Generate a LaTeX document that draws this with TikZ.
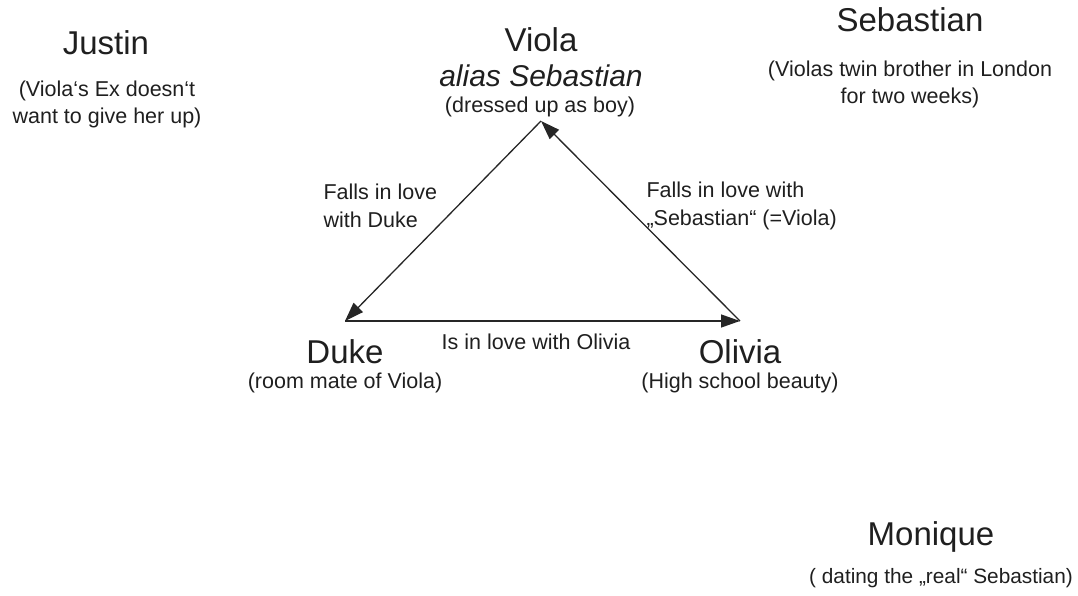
\documentclass[tikz,border=0pt]{standalone}
\usepackage{fontspec}
\setmainfont{Liberation Sans}
\usetikzlibrary{arrows.meta}

\tikzset{
  persona/.style={font=\fontsize{33}{36}\selectfont},
  note/.style={font=\fontsize{21.5}{27}\selectfont,align=center},
  lbl/.style={font=\fontsize{21.5}{28}\selectfont,align=left},
  love/.style={-{Triangle[length=19pt,width=13pt]},line width=1.3pt,draw=black!85}
}

\begin{document}
\begin{tikzpicture}[x=1pt,y=-1pt,text=black!88]
                \useasboundingbox (0,0) rectangle (1078,596);
                % persons
                \node[persona] (justin) at(106,43){Justin};
                \node[note] (justinnote) at(107,104){(Viola‘s Ex doesn‘t\\want to give her up)};

                \node[persona] (viola) at(541,40){Viola};
                \node[font=\fontsize{30}{33}\selectfont\itshape] (alias) at(541,76){alias Sebastian};
                \node[note] (violanote) at(540,107){(dressed up as boy)};

                \node[persona] (sebastian) at(910,20){Sebastian};
                \node[note] (sebastiannote) at(910,84){(Violas twin brother in London\\for two weeks)};

                \node[persona] (duke) at(345,352){Duke};
                \node[note] (dukenote) at(345,383){(room mate of Viola)};

                \node[persona] (olivia) at(740,352){Olivia};
                \node[note] (olivianote) at(740,383){(High school beauty)};

                \node[persona] (monique) at(931,537){Monique};
                \node[note,font=\fontsize{20.8}{27}\selectfont] (moniquenote) at(941,578){( dating the „real“ Sebastian)};

                % triangle
                \coordinate (apex) at(541,121);
                \coordinate (dukept) at(345,321);
                \coordinate (oliviapt) at(740,321);
                \draw[love] (apex)--(dukept);
                \draw[love] (dukept)--(oliviapt);
                \draw[love] (oliviapt)--(apex);

                \node[lbl,anchor=west] (dukelove) at(320,206){Falls in love\\with Duke};
                \node[lbl,anchor=west] (olivialove) at(643,206){Falls in love with\\„Sebastian“ (=Viola)};
                \node[lbl] (olivialabel) at(536,342){Is in love with Olivia};
            \end{tikzpicture}
\end{document}
